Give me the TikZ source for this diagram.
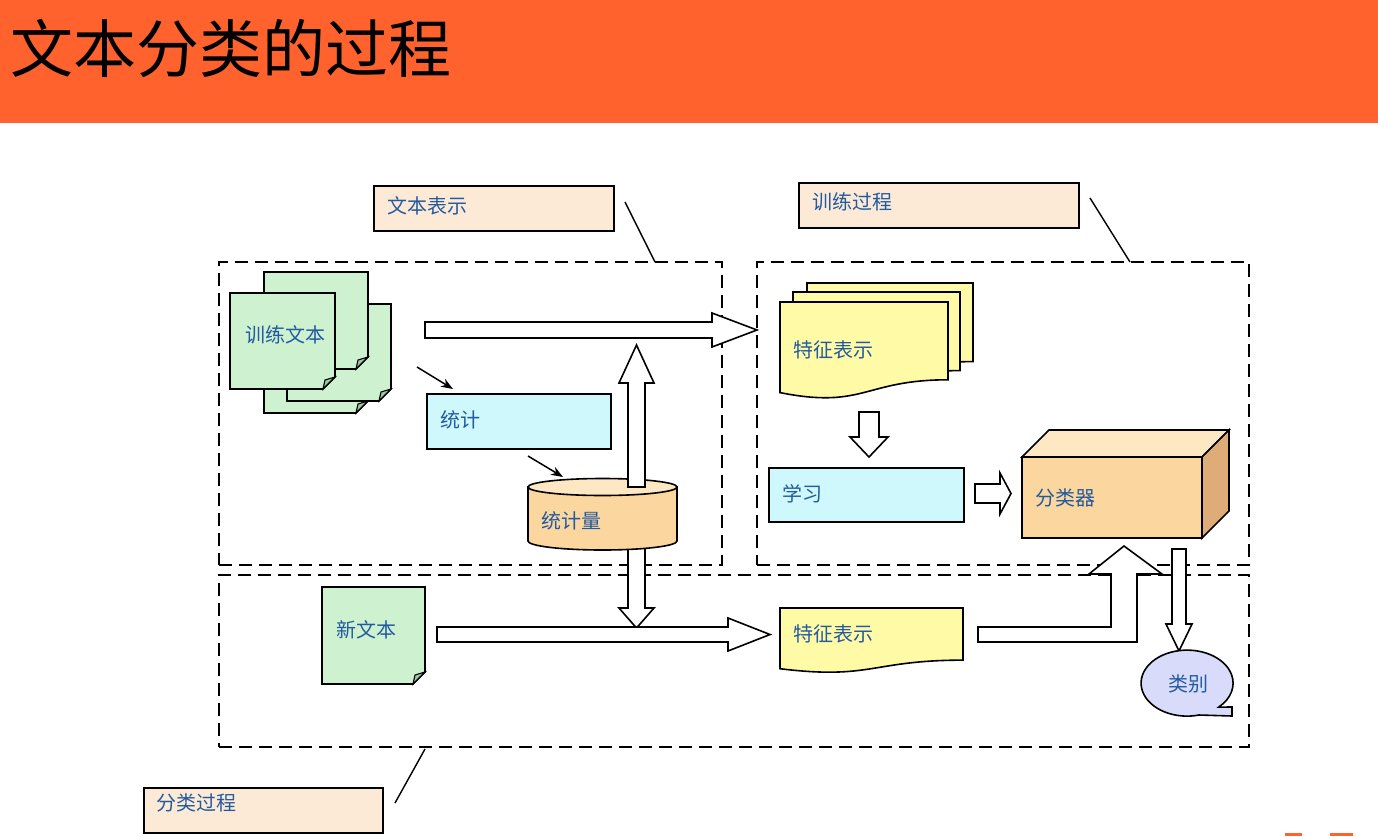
\documentclass[tikz,border=0pt]{standalone}
\usepackage{fontspec}
\newfontfamily\cjk{Noto Sans CJK SC}
\usetikzlibrary{arrows.meta,calc}
\definecolor{hdr}{RGB}{255,98,45}
\definecolor{lblfill}{RGB}{253,234,214}
\definecolor{txtblue}{RGB}{35,90,160}
\definecolor{pagegreen}{RGB}{206,242,208}
\definecolor{folddk}{RGB}{160,200,160}
\definecolor{cyanfill}{RGB}{206,248,252}
\definecolor{yel}{RGB}{255,250,165}
\definecolor{orangefill}{RGB}{251,214,158}
\definecolor{orangetop}{RGB}{253,232,195}
\definecolor{orangeside}{RGB}{222,172,120}
\definecolor{lav}{RGB}{216,220,250}
\newcommand\docpg[4]{%
  \filldraw[pg] (#1,#2) -- (#3,#2) -- (#3,#4-12) -- (#3-12,#4) -- (#1,#4) -- cycle;
  \filldraw[fold] (#3,#4-12) -- (#3-12,#4) -- (#3-10,#4-9) -- cycle;}
\newcommand\featdoc[4]{%
  \filldraw[feat] (#1,#2) -- (#3,#2) -- (#3,{#2+0.802*(#4-#2)})
    .. controls ({#1+0.5*(#3-#1)},{#2+0.802*(#4-#2)}) and ({#1+0.5*(#3-#1)},{#2+1.107*(#4-#2)})
    .. (#1,{#2+0.934*(#4-#2)}) -- cycle;}
\begin{document}
\begin{tikzpicture}[x=1pt,y=-1pt,line join=miter,
  txt/.style={font=\cjk\fontsize{20}{20}\selectfont,text=txtblue,anchor=west,inner sep=0pt},
  dashbox/.style={draw,dash pattern=on 13pt off 7pt,line width=1.7pt,inner sep=0pt},
  lbl/.style={draw,line width=1.6pt,fill=lblfill,anchor=north west,inner sep=0pt},
  leader/.style={line width=1.4pt},
  blk/.style={draw,fill=white,line width=1.6pt},
  pg/.style={draw,fill=pagegreen,line width=1.6pt},
  fold/.style={draw,fill=folddk,line width=1.1pt},
  feat/.style={draw,fill=yel,line width=1.6pt},
  boxc/.style={draw,fill=cyanfill,line width=1.6pt,anchor=north west,inner sep=0pt},
  thin/.style={line width=1.5pt,-{Stealth[length=12pt,width=9pt]}}]
\useasboundingbox (0,0) rectangle (1378,836);
\fill[white] (0,0) rectangle (1378,836);
% header
\fill[hdr] (0,0) rectangle (1378,123);
\node[anchor=west,inner sep=0pt,font=\cjk\fontsize{63}{63}\selectfont] (title) at (10,48) {文本分类的过程};
\fill[hdr] (1285,833) rectangle (1302,836);
\fill[hdr] (1330,833) rectangle (1353,836);

% dashed regions
\node[dashbox,minimum width=503pt,minimum height=303pt] (rep) at (470.5,413.5) {};
\node[dashbox,minimum width=492pt,minimum height=303pt] (train) at (1003,413.5) {};
\node[dashbox,minimum width=1030pt,minimum height=172pt] (cls) at (734,661) {};

% label boxes
\node[lbl,minimum width=240pt,minimum height=45pt] (lab1) at (373,185) {};
\node[txt] (lab1t) at (387,206) {文本表示};
\node[lbl,minimum width=280pt,minimum height=45pt] (lab2) at (798,182) {};
\node[txt] (lab2t) at (812,202) {训练过程};
\node[lbl,minimum width=239pt,minimum height=45pt] (lab3) at (143,787) {};
\node[txt] (lab3t) at (156,803) {分类过程};
\coordinate (l1a) at (625,202); \coordinate (l1b) at (655,262);
\coordinate (l2a) at (1090,198); \coordinate (l2b) at (1130,262);
\coordinate (l3a) at (395,803); \coordinate (l3b) at (425,749);
\draw[leader] (l1a) -- (l1b);
\draw[leader] (l2a) -- (l2b);
\draw[leader] (l3a) -- (l3b);

% training documents
\docpg{264}{317}{368}{413}
\docpg{287}{304}{391}{401}
\docpg{264}{272}{368}{369}
\docpg{230}{293}{335}{389}
\node[txt] (traindoc) at (245,335) {训练文本};

% big arrow to features
\filldraw[blk] (425,322) -- (712,322) -- (712,313) -- (757,330) -- (712,347) -- (712,338) -- (425,338) -- cycle;

% statistics box
\node[boxc,minimum width=184pt,minimum height=55pt] (stat) at (426,393) {};
\node[txt] (statt) at (440,420) {统计};
\coordinate (a1s) at (417,367); \coordinate (a1e) at (453,389);
\coordinate (a2s) at (528,456); \coordinate (a2e) at (563,477);
\draw[thin] (a1s) -- (a1e);
\draw[thin] (a2s) -- (a2e);

% arrow down from cylinder (behind)
\filldraw[blk] (628,540) -- (628,608) -- (619,608) -- (636.5,628) -- (654,608) -- (645,608) -- (645,540) -- cycle;
% cylinder
\filldraw[draw,fill=orangefill,line width=1.6pt] (528,487) -- (528,541) arc[start angle=180,end angle=0,x radius=74.5,y radius=9] -- (677,487) -- cycle;
\filldraw[draw,fill=orangetop,line width=1.6pt] (602.5,487) ellipse[x radius=74.5,y radius=8.5];
\node[txt] (cyl) at (541,521) {统计量};
% arrow up
\filldraw[blk] (628,487) -- (628,383) -- (619,383) -- (636.5,345) -- (654,383) -- (645,383) -- (645,487) -- cycle;

% feature stack
\featdoc{807}{283}{973}{381}
\featdoc{793}{292}{960}{390}
\featdoc{780}{302}{948}{399}
\node[txt] (feat1) at (793,350) {特征表示};
% arrow down to learning
\filldraw[blk] (859,412) -- (879,412) -- (879,437) -- (888,437) -- (869,457) -- (850,437) -- (859,437) -- cycle;
% learning
\node[boxc,minimum width=195pt,minimum height=54pt] (learn) at (768,467) {};
\node[txt] (learnt) at (782,494) {学习};
% arrow learning -> classifier
\filldraw[blk] (975,484) -- (1000,484) -- (1000,473) -- (1011,493.5) -- (1000,514) -- (1000,503) -- (975,503) -- cycle;
% classifier box
\filldraw[draw,fill=orangefill,line width=1.6pt] (1022,457) rectangle (1202,538);
\filldraw[draw,fill=orangetop,line width=1.6pt] (1022,457) -- (1049,430) -- (1229,430) -- (1202,457) -- cycle;
\filldraw[draw,fill=orangeside,line width=1.6pt] (1202,457) -- (1229,430) -- (1229,511) -- (1202,538) -- cycle;
\node[txt] (clsf) at (1035,498) {分类器};

% classification part
\docpg{322}{587}{425}{684}
\node[txt] (newdoc) at (336,630) {新文本};
\filldraw[blk] (437,627) -- (728,627) -- (728,618) -- (770,634.5) -- (728,651) -- (728,642) -- (437,642) -- cycle;
\featdoc{780}{608}{963}{673}
\node[txt] (feat2) at (793,634) {特征表示};
% bent arrow up to classifier
\filldraw[blk] (978,627) -- (1111,627) -- (1111,574) -- (1089,574) -- (1124,546) -- (1162,574) -- (1137,574) -- (1137,642) -- (978,642) -- cycle;
% arrow classifier -> category
\filldraw[blk] (1172,549) -- (1186,549) -- (1186,624) -- (1192,624) -- (1179,651) -- (1166,624) -- (1172,624) -- cycle;
% speech bubble
\filldraw[draw,fill=lav,line width=1.6pt] (1232,716) -- (1199,715) arc[start angle=75,end angle=406.6,x radius=46,y radius=33] -- (1232,707) -- cycle;
\node[txt,anchor=center] (cat) at (1188,684) {类别};
\end{tikzpicture}
\end{document}
